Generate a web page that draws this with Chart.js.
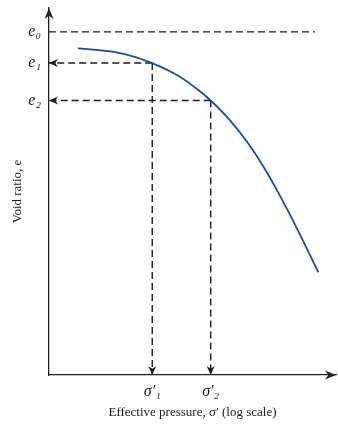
<!DOCTYPE html>
<html>
<head>
<meta charset="utf-8">
<script src="https://cdn.jsdelivr.net/npm/chart.js@4"></script>
<style>
  html, body { margin: 0; padding: 0; background: #fff; }
</style>
</head>
<body>
<canvas id="chart" width="338" height="424"></canvas>
<script>
// Compression curve: void ratio against effective pressure (log scale)
const sigma = [2.0, 3.7, 6.5, 12, 22, 35, 49, 78, 117, 174, 260, 388, 653];
const voidRatio = [0.890, 0.884, 0.873, 0.850, 0.817, 0.780, 0.748, 0.694, 0.636, 0.568, 0.488, 0.401, 0.280];

// Reference levels
const e0 = 0.935;
const e0LineEnd = 600;
const sigma1 = 12, e1 = 0.850;
const sigma2 = 49, e2 = 0.748;

// Tick labels
const yTickValues = [e0, e1, e2];
const yTickLabels = ['e\u2080', 'e\u2081', 'e\u2082'];
const xTickValues = [sigma1, sigma2];
const xTickLabels = ['\u03c3\u2032\u2081', '\u03c3\u2032\u2082'];

const xMin = 1, xMax = 1000, yMin = 0, yMax = 1;

const INK = '#1c1c1c';
const SERIF = "'Liberation Serif', 'DejaVu Serif', serif";

/**
 * Draw a filled arrow head with its tip at (x1, y1), pointing away from (x0, y0)
 */
function drawHead(ctx, x0, y0, x1, y1, len, half, color) {
    const ang = Math.atan2(y1 - y0, x1 - x0);
    ctx.save();
    ctx.translate(x1, y1);
    ctx.rotate(ang);
    ctx.fillStyle = color;
    ctx.beginPath();
    ctx.moveTo(0, 0);
    ctx.lineTo(-len, -half);
    ctx.lineTo(-len * 0.7, 0);
    ctx.lineTo(-len, half);
    ctx.closePath();
    ctx.fill();
    ctx.restore();
}

const arrowPlugin = {
    id: 'arrows',
    afterDatasetsDraw(chart) {
        const ctx = chart.ctx;
        chart.data.datasets.forEach((ds, i) => {
            if (!ds.arrow) return;
            const pts = chart.getDatasetMeta(i).data;
            const a = pts[pts.length - 2], b = pts[pts.length - 1];
            drawHead(ctx, a.x, a.y, b.x, b.y, 9, 4, INK);
        });
        // axis arrows
        const { left, right, top, bottom } = chart.chartArea;
        drawHead(ctx, left, bottom, left, top, 11, 4.5, '#222');
        drawHead(ctx, left, bottom, right, bottom, 11, 4.5, '#222');
    }
};

function dashed(points, arrow) {
    return {
        data: points,
        showLine: true,
        borderColor: INK,
        borderWidth: 1.4,
        borderDash: [7, 4],
        pointRadius: 0,
        arrow: arrow
    };
}

new Chart(document.getElementById('chart'), {
    type: 'scatter',
    data: {
        datasets: [
            {
                data: sigma.map((s, i) => ({ x: s, y: voidRatio[i] })),
                showLine: true,
                borderColor: '#1a4ca4',
                borderWidth: 1.8,
                tension: 0.4,
                pointRadius: 0
            },
            dashed([{ x: xMin, y: e0 }, { x: e0LineEnd, y: e0 }], false),
            dashed([{ x: sigma1, y: e1 }, { x: xMin, y: e1 }], true),
            dashed([{ x: sigma1, y: e1 }, { x: sigma1, y: yMin }], true),
            dashed([{ x: sigma2, y: e2 }, { x: xMin, y: e2 }], true),
            dashed([{ x: sigma2, y: e2 }, { x: sigma2, y: yMin }], true)
        ]
    },
    options: {
        responsive: false,
        animation: false,
        devicePixelRatio: 1,
        layout: { padding: { top: 8, right: 2, left: 0, bottom: 0 } },
        plugins: {
            legend: { display: false },
            tooltip: { enabled: false }
        },
        scales: {
            x: {
                type: 'logarithmic',
                min: xMin,
                max: xMax,
                grid: { display: false, drawTicks: false },
                border: { display: true, color: '#222', width: 1.3 },
                afterBuildTicks: scale => { scale.ticks = xTickValues.map(v => ({ value: v })); },
                afterFit: scale => { scale.height = 49; scale.paddingLeft = 0; scale.paddingRight = 0; },
                ticks: {
                    autoSkip: false,
                    maxRotation: 0,
                    padding: 7,
                    color: INK,
                    font: { family: SERIF, size: 16, style: 'italic' },
                    callback: (v, i) => xTickLabels[i]
                },
                title: {
                    display: true,
                    text: 'Effective pressure, \u03c3\u2032 (log scale)',
                    color: INK,
                    font: { family: SERIF, size: 13 },
                    padding: { top: 0, bottom: 4 }
                }
            },
            y: {
                type: 'linear',
                min: yMin,
                max: yMax,
                grid: { display: false, drawTicks: false },
                border: { display: true, color: '#222', width: 1.3 },
                afterBuildTicks: scale => { scale.ticks = yTickValues.map(v => ({ value: v })); },
                afterFit: scale => { scale.width = 49; scale.paddingTop = 0; scale.paddingBottom = 0; },
                ticks: {
                    autoSkip: false,
                    padding: 8,
                    color: INK,
                    font: { family: SERIF, size: 16, style: 'italic' },
                    callback: (v, i) => yTickLabels[i]
                },
                title: {
                    display: true,
                    text: 'Void ratio, e',
                    color: INK,
                    font: { family: SERIF, size: 13 },
                    padding: { top: 10, bottom: 0 }
                }
            }
        }
    },
    plugins: [arrowPlugin]
});
</script>
</body>
</html>
